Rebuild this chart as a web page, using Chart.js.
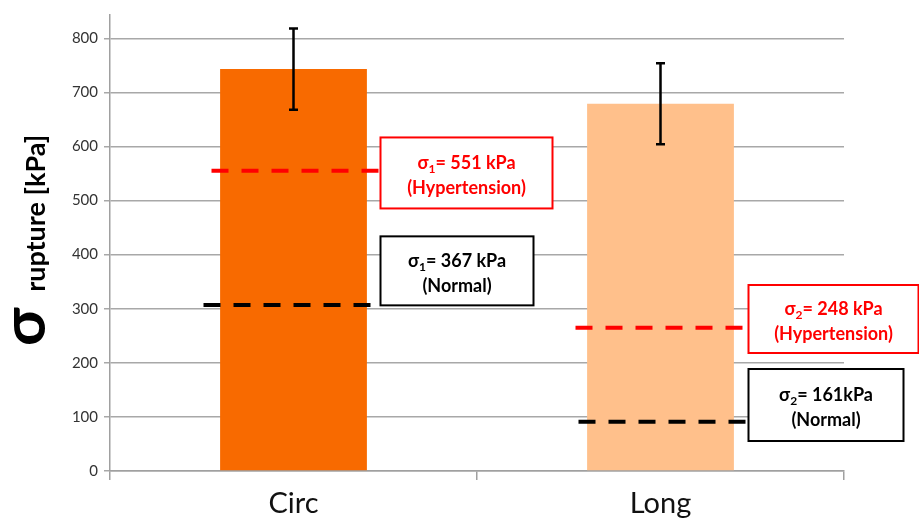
<!DOCTYPE html>
<html><head><meta charset="utf-8">
<script src="https://cdn.jsdelivr.net/npm/chart.js@4"></script>
<style>html,body{margin:0;padding:0;background:#fff}#wrap{width:919px;height:522px}</style>
</head><body><div id="wrap"><canvas id="c" width="919" height="522"></canvas></div>
<script>
const categories = ['Circ', 'Long'];
const ruptureValues = [743, 679];
const errorValues = [75, 75];
const yTicks = [0, 100, 200, 300, 400, 500, 600, 700, 800];
// reference lines: category index, value, colour
const refLineCats = [0, 0, 1, 1];
const refLineValues = [555, 307, 265, 91];
const refLineColors = ['#FF0000', '#000000', '#FF0000', '#000000'];
// boxes
const boxSub = ['1', '1', '2', '2'];
const boxText1 = ['= 551 kPa', '= 367 kPa', '= 248 kPa', '= 161kPa'];
const boxText2 = ['(Hypertension)', '(Normal)', '(Hypertension)', '(Normal)'];
const boxCenterValues = [551, 370, 281, 122];

const lineSpan = [[-82, 87], [-90, 77], [-85, 88], [-82, 88]];
const boxGeom = [{dx: 87, w: 172, h: 71}, {dx: 87, w: 153, h: 69}, {dx: 88, w: 170, h: 68}, {dx: 88, w: 155, h: 72}];

const FONT = 'Lato, "Open Sans", sans-serif';

const overlay = {
  id: 'overlay',
  afterDatasetsDraw(chart) {
    const ctx = chart.ctx, x = chart.scales.x, y = chart.scales.y;
    const meta = chart.getDatasetMeta(0);
    ctx.save();
    ctx.strokeStyle = '#000'; ctx.lineWidth = 2.5;
    meta.data.forEach((bar, i) => {
      const v = ruptureValues[i], e = errorValues[i];
      const yt = y.getPixelForValue(v + e), yb = y.getPixelForValue(v - e);
      ctx.beginPath();
      ctx.moveTo(bar.x, yt); ctx.lineTo(bar.x, yb);
      ctx.moveTo(bar.x - 4.5, yt); ctx.lineTo(bar.x + 4.5, yt);
      ctx.moveTo(bar.x - 4.5, yb); ctx.lineTo(bar.x + 4.5, yb);
      ctx.stroke();
    });
    ctx.lineWidth = 4; ctx.setLineDash([17, 13]);
    refLineValues.forEach((v, i) => {
      const cx = x.getPixelForValue(refLineCats[i]);
      const py = y.getPixelForValue(v);
      ctx.strokeStyle = refLineColors[i];
      ctx.beginPath();
      ctx.moveTo(cx + lineSpan[i][0], py); ctx.lineTo(cx + lineSpan[i][1], py);
      ctx.stroke();
    });
    ctx.setLineDash([]);
    ctx.restore();
  },
  afterDraw(chart) {
    const ctx = chart.ctx, x = chart.scales.x, y = chart.scales.y;
    ctx.save();
    boxCenterValues.forEach((v, i) => {
      const cx = x.getPixelForValue(refLineCats[i]);
      const g = boxGeom[i];
      const cy = y.getPixelForValue(v);
      const left = cx + g.dx, top = cy - g.h / 2;
      const col = refLineColors[i];
      ctx.fillStyle = '#fff';
      ctx.fillRect(left, top, g.w, g.h);
      ctx.strokeStyle = col; ctx.lineWidth = 2;
      ctx.strokeRect(left, top, g.w, g.h);
      ctx.fillStyle = col;
      ctx.textBaseline = 'alphabetic';
      const midX = left + g.w / 2;
      const f1 = 'bold 18px ' + FONT, fs = 'bold 12px ' + FONT;
      ctx.font = f1; const wS = ctx.measureText('σ').width; const wT = ctx.measureText(boxText1[i]).width;
      ctx.font = fs; const wSub = ctx.measureText(boxSub[i]).width;
      const total = wS + wSub + wT;
      let sx = midX - total / 2;
      const b1 = cy - 4, b2 = cy + 21;
      ctx.textAlign = 'left';
      ctx.font = f1; ctx.fillText('σ', sx, b1); sx += wS;
      ctx.font = fs; ctx.fillText(boxSub[i], sx, b1 + 4); sx += wSub;
      ctx.font = f1; ctx.fillText(boxText1[i], sx, b1);
      ctx.textAlign = 'center';
      ctx.fillText(boxText2[i], midX, b2);
    });
    ctx.save();
    ctx.translate(45, 346);
    ctx.rotate(-Math.PI / 2);
    ctx.fillStyle = '#000';
    ctx.textAlign = 'left';
    ctx.textBaseline = 'alphabetic';
    ctx.font = 'bold 62px ' + FONT;
    ctx.fillText('σ', 0, 0);
    const ws = ctx.measureText('σ').width;
    ctx.font = 'bold 27px ' + FONT;
    ctx.fillText('rupture [kPa]', ws + 16, 0);
    ctx.restore();
    ctx.restore();
  }
};

new Chart(document.getElementById('c'), {
  type: 'bar',
  data: {
    labels: categories,
    datasets: [{
      data: ruptureValues,
      backgroundColor: ['#F86A00', '#FFC08B'],
      barPercentage: 0.4,
      categoryPercentage: 1.0,
      borderWidth: 0
    }]
  },
  options: {
    responsive: false,
    animation: false,
    devicePixelRatio: 1,
    layout: { padding: { top: 9, right: 75, left: 0, bottom: 0 } },
    plugins: { legend: { display: false }, tooltip: { enabled: false } },
    scales: {
      x: {
        offset: true,
        grid: { display: true, drawOnChartArea: false, offset: true, color: '#A0A0A0', lineWidth: 1.5, tickLength: 9 },
        border: { color: '#A0A0A0', width: 1.5 },
        ticks: { color: '#111', font: { family: FONT, size: 29 }, padding: 6 },
        afterFit(s) { s.height = 51; }
      },
      y: {
        min: 0, max: 843,
        afterBuildTicks(s) { s.ticks = yTicks.map(v => ({ value: v })); },
        grid: { color: '#A8A8A8', lineWidth: 1.5, tickLength: 6 },
        border: { color: '#A0A0A0', width: 1.5 },
        ticks: { color: '#333', font: { family: FONT, size: 15 }, padding: 6 },
        afterFit(s) { s.width = 110; }
      }
    }
  },
  plugins: [overlay]
});
</script>
</body></html>
